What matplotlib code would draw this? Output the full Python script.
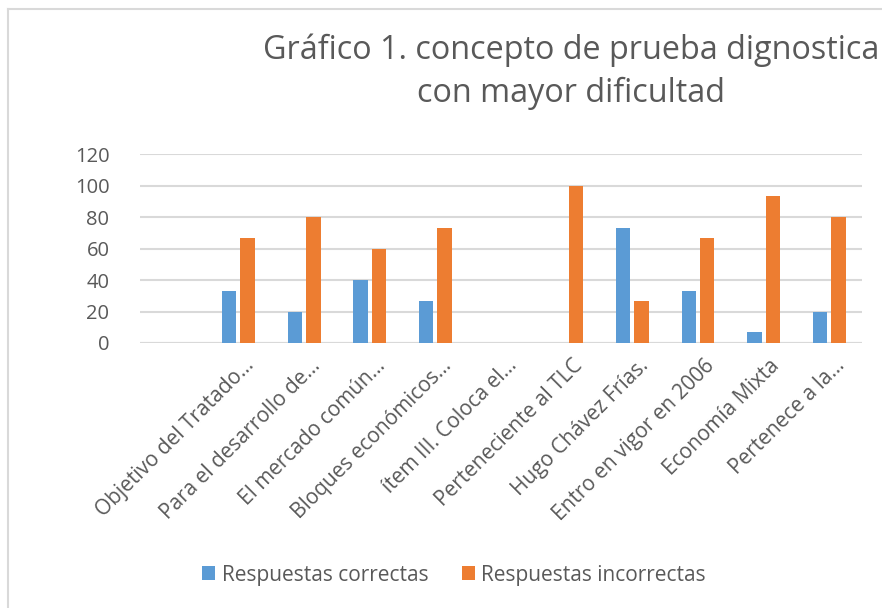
import matplotlib
matplotlib.use("Agg")
import matplotlib.pyplot as plt
from matplotlib.lines import Line2D
import matplotlib.transforms as mtransforms
import numpy as np

plt.rcParams['font.family'] = ['Open Sans', 'DejaVu Sans']

categories = ["", "Objetivo del Tratado…", "Para el desarrollo de…", "El mercado común…",
              "Bloques económicos…", "ítem III. Coloca el…", "Perteneciente al TLC",
              "Hugo Chávez Frías.", "Entro en vigor en 2006", "Economía Mixta",
              "Pertenece a la…"]
correctas = [0, 33.3, 20, 40, 26.7, 0, 0, 73.3, 33.3, 6.7, 20]
incorrectas = [0, 66.7, 80, 60, 73.3, 0, 100, 26.7, 66.7, 93.3, 80]
yticks = [0, 20, 40, 60, 80, 100, 120]
title = "Gráfico 1. concepto de prueba dignostica\ncon mayor dificultad"
series_names = ["Respuestas correctas", "Respuestas incorrectas"]

blue = "#5B9BD5"
orange = "#ED7D31"
txt = "#595959"
grid = "#D9D9D9"

fig = plt.figure(figsize=(8.82, 6.08), dpi=100)
ax = fig.add_axes([140/882, 1-343/608, (862-140)/882, (343-154)/608])

x = np.arange(len(categories))
w = 0.22
ax.bar(x - 0.14, correctas, w, color=blue, label=series_names[0], zorder=3)
ax.bar(x + 0.14, incorrectas, w, color=orange, label=series_names[1], zorder=3)

ax.set_xlim(-0.5, len(categories) - 0.5)
ax.set_ylim(0, 120)
ax.set_yticks(yticks)
ax.yaxis.grid(True, color=grid, linewidth=1.5, zorder=0)
ax.set_axisbelow(True)
for s in ax.spines.values():
    s.set_visible(False)
ax.axhline(0, color=grid, linewidth=1.5, zorder=2)
ax.tick_params(axis='both', length=0, colors=txt)
ax.tick_params(axis='y', pad=22, labelsize=14.5)
ax.set_xticks(x)
ax.set_xticklabels(categories, rotation=45, ha='right', va='center',
                   rotation_mode='anchor', fontsize=15, color=txt)
ax.tick_params(axis='x', pad=14)
offset = mtransforms.ScaledTranslation(13/100, 0, fig.dpi_scale_trans)
for lab in ax.get_xticklabels():
    lab.set_transform(lab.get_transform() + offset)

fig.text(571/882, 1-72/608, title, ha='center', va='center', fontsize=23.3,
         color=txt, linespacing=1.4)

leg = fig.legend(loc='center', bbox_to_anchor=(454/882, 1-575/608), ncol=2,
                 frameon=False, fontsize=15, handlelength=0.65, handleheight=0.65,
                 columnspacing=1.6, handletextpad=0.3)
for t in leg.get_texts():
    t.set_color(txt)

# chart border (left and top)
fig.add_artist(Line2D([7.5/882, 7.5/882], [0, 1-9/608], transform=fig.transFigure,
                      color=grid, linewidth=1.5))
fig.add_artist(Line2D([7.5/882, 1], [1-9/608, 1-9/608], transform=fig.transFigure,
                      color=grid, linewidth=1.5))

fig.savefig("out.png", dpi=100, facecolor="white")
